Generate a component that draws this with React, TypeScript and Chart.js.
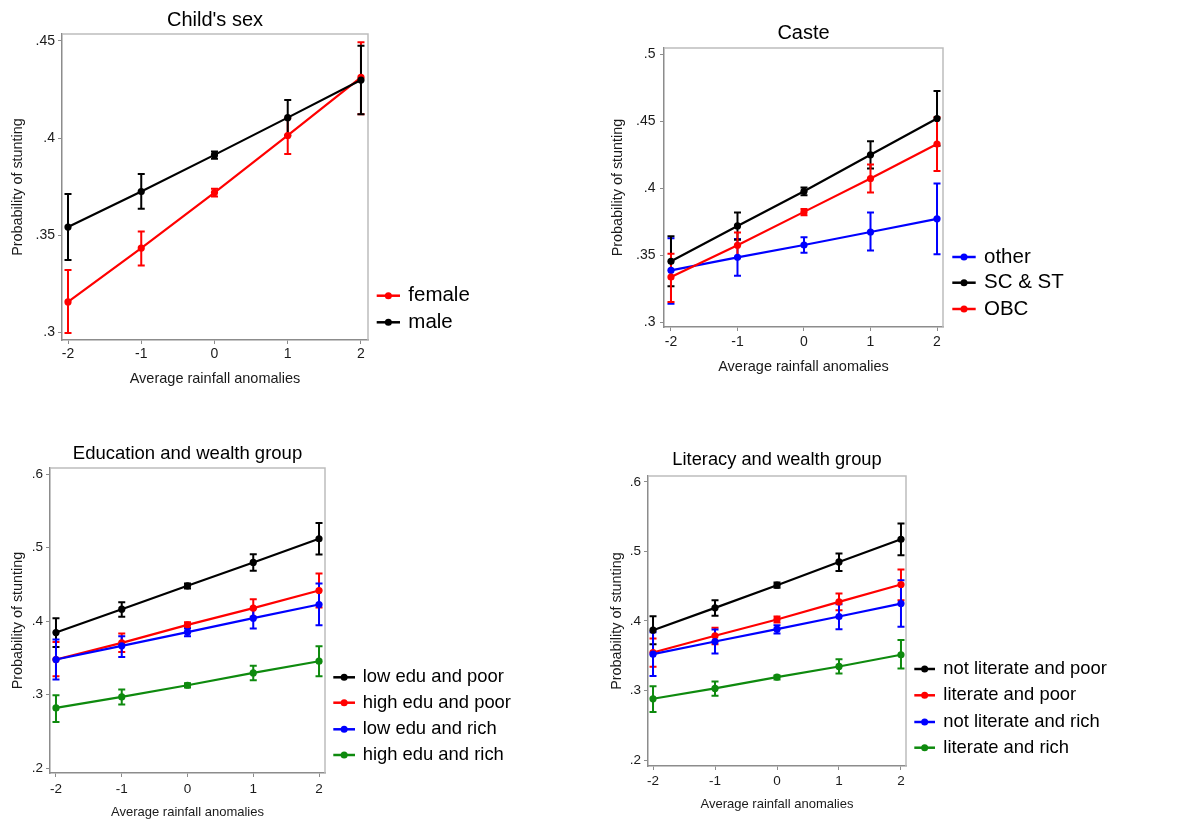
import React, { useEffect, useRef } from "react";
import { Chart, registerables } from "chart.js";

Chart.register(...registerables);

const FONT = "'Liberation Sans', Arial, Helvetica, sans-serif";

// ---------- shared axis values ----------
const rainfall = [-2, -1, 0, 1, 2];
const rainfallTicks = [-2, -1, 0, 1, 2];
const xTitle = "Average rainfall anomalies";
const yTitle = "Probability of stunting";

// ---------- Panel 1: Child's sex ----------
const sexTitle = "Child's sex";
const sexLabels = ["female", "male"];
const femaleMean = [0.3155, 0.3433, 0.3719, 0.4013, 0.4313];
const femaleLo = [0.2995, 0.3343, 0.3699, 0.3918, 0.4123];
const femaleHi = [0.332, 0.3518, 0.3738, 0.4102, 0.4493];
const maleMean = [0.3541, 0.3724, 0.3913, 0.4105, 0.4299];
const maleLo = [0.3371, 0.3635, 0.3893, 0.4013, 0.4123];
const maleHi = [0.3711, 0.3814, 0.393, 0.4196, 0.4476];
const sexTicks = [0.3, 0.35, 0.4, 0.45];

// ---------- Panel 2: Caste ----------
const casteTitle = "Caste";
const casteLabels = ["other", "SC & ST", "OBC"];
const otherMean = [0.3386, 0.3483, 0.3575, 0.3672, 0.377];
const otherLo = [0.3137, 0.3346, 0.3518, 0.3533, 0.3506];
const otherHi = [0.3625, 0.362, 0.3633, 0.3817, 0.4034];
const scstMean = [0.3453, 0.3717, 0.3976, 0.4248, 0.4519];
const scstLo = [0.3267, 0.3615, 0.3946, 0.4146, 0.4315];
const scstHi = [0.364, 0.3817, 0.4004, 0.435, 0.4724];
const obcMean = [0.3336, 0.3573, 0.3822, 0.4071, 0.4328];
const obcLo = [0.315, 0.3478, 0.3797, 0.3966, 0.4128];
const obcHi = [0.351, 0.3668, 0.3844, 0.4176, 0.4528];
const casteTicks = [0.3, 0.35, 0.4, 0.45, 0.5];

// ---------- Panel 3: Education and wealth group ----------
const eduTitle = "Education and wealth group";
const eduLabels = ["low edu and poor", "high edu and poor", "low edu and rich", "high edu and rich"];
const lowEduPoorMean = [0.3843, 0.4161, 0.4479, 0.4797, 0.5119];
const lowEduPoorLo = [0.3648, 0.4057, 0.4443, 0.4683, 0.4906];
const lowEduPoorHi = [0.4039, 0.4257, 0.4511, 0.491, 0.5333];
const highEduPoorMean = [0.3476, 0.3703, 0.3948, 0.4175, 0.4415];
const highEduPoorLo = [0.3249, 0.358, 0.3907, 0.4057, 0.4184];
const highEduPoorHi = [0.3716, 0.383, 0.3984, 0.4297, 0.4647];
const lowEduRichMean = [0.3476, 0.3662, 0.3848, 0.4039, 0.4225];
const lowEduRichLo = [0.3203, 0.3512, 0.3793, 0.3898, 0.3943];
const lowEduRichHi = [0.3748, 0.3793, 0.3898, 0.417, 0.4511];
const highEduRichMean = [0.2817, 0.2967, 0.3126, 0.3294, 0.3453];
const highEduRichLo = [0.2627, 0.2863, 0.3094, 0.3194, 0.3249];
const highEduRichHi = [0.299, 0.3067, 0.3153, 0.339, 0.3657];
const eduTicks = [0.2, 0.3, 0.4, 0.5, 0.6];

// ---------- Panel 4: Literacy and wealth group ----------
const litTitle = "Literacy and wealth group";
const litLabels = ["not literate and poor", "literate and poor", "not literate and rich", "literate and rich"];
const notLitPoorMean = [0.3868, 0.4189, 0.4515, 0.485, 0.5176];
const notLitPoorLo = [0.3667, 0.4074, 0.4477, 0.4721, 0.4946];
const notLitPoorHi = [0.4069, 0.4299, 0.4553, 0.497, 0.5401];
const litPoorMean = [0.3547, 0.3787, 0.4022, 0.4275, 0.4525];
const litPoorLo = [0.3341, 0.3667, 0.3978, 0.4156, 0.4299];
const litPoorHi = [0.3749, 0.3902, 0.4065, 0.4395, 0.474];
const notLitRichMean = [0.3523, 0.3705, 0.3883, 0.4065, 0.4251];
const notLitRichLo = [0.3207, 0.3533, 0.382, 0.3883, 0.3916];
const notLitRichHi = [0.3839, 0.3878, 0.394, 0.4242, 0.4587];
const litRichMean = [0.2881, 0.303, 0.3193, 0.3346, 0.3514];
const litRichLo = [0.269, 0.2925, 0.3159, 0.3246, 0.3317];
const litRichHi = [0.3063, 0.3131, 0.3217, 0.3451, 0.3725];
const litTicks = [0.2, 0.3, 0.4, 0.5, 0.6];

const RED = "#ff0000";
const BLACK = "#000000";
const BLUE = "#0000ff";
const GREEN = "#0e8a0e";

type Series = { label: string; color: string; mean: number[]; lo: number[]; hi: number[] };

type Panel = {
  title: string;
  series: Series[];
  yTicks: number[];
  // canvas box (page coords)
  x0: number; y0: number; w: number; h: number;
  // plot area (page coords)
  plotL: number; plotR: number; plotT: number; plotB: number;
  xMin: number; xMax: number; yMin: number; yMax: number;
  titleSize: number; titleCenter: number;
  tickSize: number; xTickPad: number; yTickPad: number;
  xTitleSize: number; xTitleCenter: number;
  yTitleSize: number; yTitleCenter: number;
  legendSize: number; legendRows: number[]; legendLine: [number, number]; legendText: number;
};

const panels: Panel[] = [
  {
    title: sexTitle,
    series: [
      { label: sexLabels[0], color: RED, mean: femaleMean, lo: femaleLo, hi: femaleHi },
      { label: sexLabels[1], color: BLACK, mean: maleMean, lo: maleLo, hi: maleHi },
    ],
    yTicks: sexTicks,
    x0: 0, y0: 0, w: 589, h: 405,
    plotL: 62, plotR: 368, plotT: 34, plotB: 340,
    xMin: -2.082, xMax: 2.096, yMin: 0.2959, yMax: 0.4536,
    titleSize: 20, titleCenter: 20,
    tickSize: 14, xTickPad: 2, yTickPad: 3,
    xTitleSize: 14.5, xTitleCenter: 379,
    yTitleSize: 14.4, yTitleCenter: 18.3,
    legendSize: 20.5, legendRows: [295.7, 322.3], legendLine: [376.7, 400], legendText: 408.3,
  },
  {
    title: casteTitle,
    series: [
      { label: casteLabels[0], color: BLUE, mean: otherMean, lo: otherLo, hi: otherHi },
      { label: casteLabels[1], color: BLACK, mean: scstMean, lo: scstLo, hi: scstHi },
      { label: casteLabels[2], color: RED, mean: obcMean, lo: obcLo, hi: obcHi },
    ],
    yTicks: casteTicks,
    x0: 600, y0: 0, w: 578, h: 405,
    plotL: 664, plotR: 943, plotT: 48, plotB: 327,
    xMin: -2.105, xMax: 2.09, yMin: 0.2963, yMax: 0.5045,
    titleSize: 20, titleCenter: 33.5,
    tickSize: 14, xTickPad: 2.6, yTickPad: 4.5,
    xTitleSize: 14.5, xTitleCenter: 367,
    yTitleSize: 14.4, yTitleCenter: 618.3,
    legendSize: 20.5, legendRows: [257, 282.7, 309], legendLine: [952.3, 975.7], legendText: 984,
  },
  {
    title: eduTitle,
    series: [
      { label: eduLabels[0], color: BLACK, mean: lowEduPoorMean, lo: lowEduPoorLo, hi: lowEduPoorHi },
      { label: eduLabels[1], color: RED, mean: highEduPoorMean, lo: highEduPoorLo, hi: highEduPoorHi },
      { label: eduLabels[2], color: BLUE, mean: lowEduRichMean, lo: lowEduRichLo, hi: lowEduRichHi },
      { label: eduLabels[3], color: GREEN, mean: highEduRichMean, lo: highEduRichLo, hi: highEduRichHi },
    ],
    yTicks: eduTicks,
    x0: 0, y0: 410, w: 589, h: 411,
    plotL: 50, plotR: 325, plotT: 468, plotB: 773,
    xMin: -2.091, xMax: 2.091, yMin: 0.1932, yMax: 0.6082,
    titleSize: 18.5, titleCenter: 453.5,
    tickSize: 13.5, xTickPad: 3.9, yTickPad: 3,
    xTitleSize: 13, xTitleCenter: 812,
    yTitleSize: 14.4, yTitleCenter: 18,
    legendSize: 18.4, legendRows: [677.3, 702.7, 729.3, 755], legendLine: [333.3, 355], legendText: 362.7,
  },
  {
    title: litTitle,
    series: [
      { label: litLabels[0], color: BLACK, mean: notLitPoorMean, lo: notLitPoorLo, hi: notLitPoorHi },
      { label: litLabels[1], color: RED, mean: litPoorMean, lo: litPoorLo, hi: litPoorHi },
      { label: litLabels[2], color: BLUE, mean: notLitRichMean, lo: notLitRichLo, hi: notLitRichHi },
      { label: litLabels[3], color: GREEN, mean: litRichMean, lo: litRichLo, hi: litRichHi },
    ],
    yTicks: litTicks,
    x0: 590, y0: 410, w: 588, h: 411,
    plotL: 648, plotR: 906, plotT: 476, plotB: 766,
    xMin: -2.081, xMax: 2.081, yMin: 0.1914, yMax: 0.6086,
    titleSize: 18.3, titleCenter: 460,
    tickSize: 13.5, xTickPad: 2.9, yTickPad: 3,
    xTitleSize: 13, xTitleCenter: 804.8,
    yTitleSize: 14.4, yTitleCenter: 617,
    legendSize: 18.4, legendRows: [669, 695.3, 722, 747.7], legendLine: [914.3, 935], legendText: 943.3,
  },
];

const fmtY = (v: number) => {
  const s = String(Math.round(v * 1000) / 1000);
  return s.replace(/^0(?=\.)/, "");
};

const stataPlugin = {
  id: "stataDecor",
  beforeDatasetsDraw(chart: any) {
    const cfg = chart.options.plugins.stataDecor;
    const { ctx } = chart;
    const xs = chart.scales.x;
    const ys = chart.scales.y;
    ctx.save();
    chart.data.datasets.forEach((ds: any) => {
      ctx.strokeStyle = ds.borderColor;
      ctx.lineWidth = 2;
      ds.data.forEach((pt: any, i: number) => {
        const x = xs.getPixelForValue(pt.x);
        const y1 = ys.getPixelForValue(ds.errLo[i]);
        const y2 = ys.getPixelForValue(ds.errHi[i]);
        const cap = cfg.cap;
        ctx.beginPath();
        ctx.moveTo(x, y1);
        ctx.lineTo(x, y2);
        ctx.moveTo(x - cap, y1);
        ctx.lineTo(x + cap, y1);
        ctx.moveTo(x - cap, y2);
        ctx.lineTo(x + cap, y2);
        ctx.stroke();
      });
    });
    ctx.restore();
  },
  afterDraw(chart: any) {
    const cfg = chart.options.plugins.stataDecor;
    const { ctx, chartArea } = chart;
    ctx.save();
    // outer plot-region outline (top & right)
    ctx.strokeStyle = "#bdbdbd";
    ctx.lineWidth = 1.5;
    ctx.beginPath();
    ctx.moveTo(chartArea.left, chartArea.top);
    ctx.lineTo(chartArea.right, chartArea.top);
    ctx.lineTo(chartArea.right, chartArea.bottom);
    ctx.stroke();
    // legend
    ctx.font = `${cfg.legendSize}px ${FONT}`;
    ctx.textBaseline = "middle";
    ctx.textAlign = "left";
    chart.data.datasets.forEach((ds: any, i: number) => {
      const y = cfg.rows[i];
      ctx.strokeStyle = ds.borderColor;
      ctx.fillStyle = ds.borderColor;
      ctx.lineWidth = 2.5;
      ctx.beginPath();
      ctx.moveTo(cfg.line[0], y);
      ctx.lineTo(cfg.line[1], y);
      ctx.stroke();
      ctx.beginPath();
      ctx.arc((cfg.line[0] + cfg.line[1]) / 2, y, 3.5, 0, Math.PI * 2);
      ctx.fill();
      ctx.fillStyle = "#000";
      ctx.fillText(ds.label, cfg.text, y);
    });
    ctx.restore();
  },
};

function PanelChart({ p }: { p: Panel }) {
  const ref = useRef<HTMLCanvasElement | null>(null);
  useEffect(() => {
    if (!ref.current) return;
    const titleLH = p.titleSize * 1.2;
    const titlePadTop = p.titleCenter - p.y0 - titleLH / 2;
    const titlePadBottom = p.plotT - p.y0 - titlePadTop - titleLH;
    const xTitleLH = p.xTitleSize * 1.2;
    const yTitleLH = p.yTitleSize * 1.2;
    const yW = p.plotL - p.x0;
    const xH = p.y0 + p.h - p.plotB;
    const n = p.series.length;
    const chart = new Chart(ref.current, {
      type: "line",
      data: {
        datasets: p.series.map((s, i) => ({
          label: s.label,
          data: rainfall.map((x, k) => ({ x, y: s.mean[k] })),
          errLo: s.lo,
          errHi: s.hi,
          borderColor: s.color,
          backgroundColor: s.color,
          borderWidth: 2.2,
          pointRadius: 3.6,
          pointBorderWidth: 0,
          pointHoverRadius: 3.6,
          fill: false,
          tension: 0,
          order: n - i,
        })) as any,
      },
      options: {
        responsive: false,
        animation: false,
        events: [],
        layout: { padding: { left: 0, top: 0, bottom: 0, right: p.x0 + p.w - p.plotR } },
        scales: {
          x: {
            type: "linear",
            min: p.xMin,
            max: p.xMax,
            afterBuildTicks: (s: any) => {
              s.ticks = rainfallTicks.map((v) => ({ value: v }));
            },
            afterFit: (s: any) => {
              s.height = xH;
            },
            grid: { display: true, drawOnChartArea: false, drawTicks: true, tickLength: 4, color: "#8c8c8c", lineWidth: 1 },
            border: { display: true, color: "#8c8c8c", width: 1.5 },
            ticks: {
              autoSkip: false,
              maxRotation: 0,
              padding: p.xTickPad,
              color: "#1a1a1a",
              font: { family: FONT, size: p.tickSize, lineHeight: 1.2 },
              callback: (v: any) => String(v),
            },
            title: {
              display: true,
              text: xTitle,
              color: "#1a1a1a",
              font: { family: FONT, size: p.xTitleSize, lineHeight: 1.2 },
              padding: { top: 0, bottom: p.y0 + p.h - p.xTitleCenter - xTitleLH / 2 },
            },
          },
          y: {
            type: "linear",
            min: p.yMin,
            max: p.yMax,
            afterBuildTicks: (s: any) => {
              s.ticks = p.yTicks.map((v) => ({ value: v }));
            },
            afterFit: (s: any) => {
              s.width = yW;
            },
            grid: { display: true, drawOnChartArea: false, drawTicks: true, tickLength: 4, color: "#8c8c8c", lineWidth: 1 },
            border: { display: true, color: "#8c8c8c", width: 1.5 },
            ticks: {
              autoSkip: false,
              padding: p.yTickPad,
              color: "#1a1a1a",
              font: { family: FONT, size: p.tickSize, lineHeight: 1.2 },
              callback: (v: any) => fmtY(Number(v)),
            },
            title: {
              display: true,
              text: yTitle,
              color: "#1a1a1a",
              font: { family: FONT, size: p.yTitleSize, lineHeight: 1.2 },
              padding: { top: p.yTitleCenter - p.x0 - yTitleLH / 2, bottom: 0 },
            },
          },
        },
        plugins: {
          legend: { display: false },
          tooltip: { enabled: false },
          title: {
            display: true,
            text: p.title,
            fullSize: false,
            color: "#000",
            font: { family: FONT, size: p.titleSize, weight: "normal", lineHeight: 1.2 },
            padding: { top: titlePadTop, bottom: titlePadBottom },
          },
          stataDecor: {
            cap: 3.5,
            legendSize: p.legendSize,
            rows: p.legendRows.map((r) => r - p.y0),
            line: [p.legendLine[0] - p.x0, p.legendLine[1] - p.x0],
            text: p.legendText - p.x0,
          },
        } as any,
      },
      plugins: [stataPlugin],
    } as any);
    return () => chart.destroy();
  }, [p]);
  return (
    <div style={{ position: "absolute", left: p.x0, top: p.y0, width: p.w, height: p.h }}>
      <canvas ref={ref} width={p.w} height={p.h} style={{ width: p.w, height: p.h, display: "block" }} />
    </div>
  );
}

export default function App() {
  return (
    <div style={{ position: "absolute", left: 0, top: 0, width: 1178, height: 821, background: "#fff", overflow: "hidden" }}>
      {panels.map((p, i) => (
        <PanelChart key={i} p={p} />
      ))}
    </div>
  );
}
